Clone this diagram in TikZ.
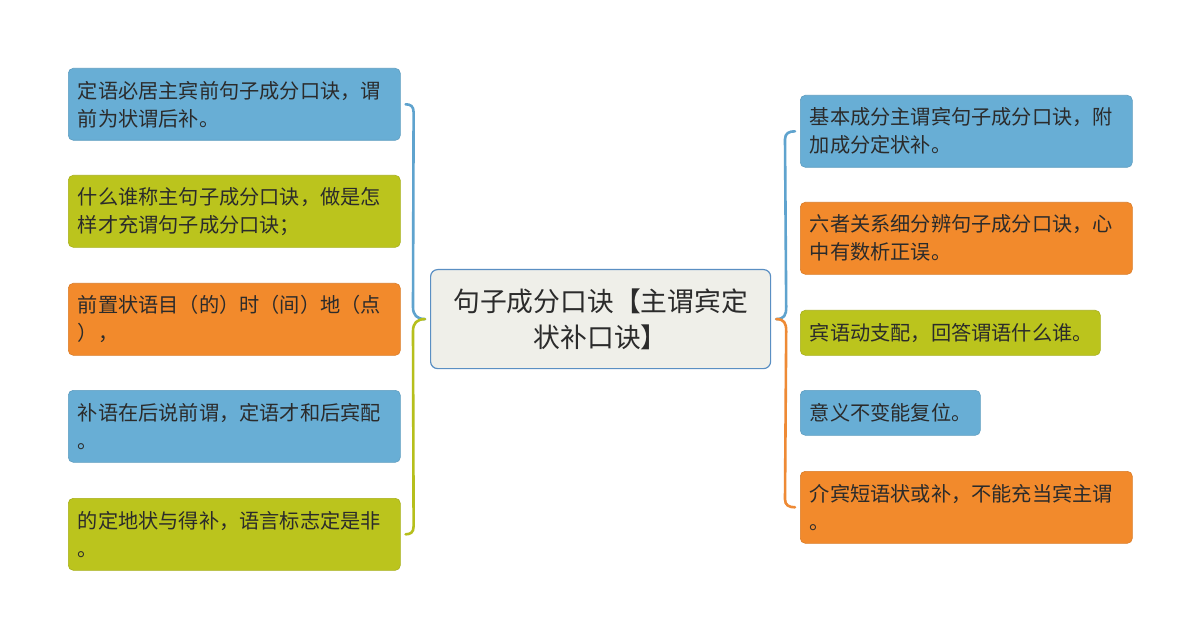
\documentclass[tikz,border=0pt]{standalone}
\usepackage{fontspec}
\newfontfamily\cjk{Noto Sans CJK SC}
\usetikzlibrary{calc}
\definecolor{cblue}{HTML}{68AED5}
\definecolor{colive}{HTML}{BBC41D}
\definecolor{corange}{HTML}{F28A2C}
\definecolor{lblue}{HTML}{5FA3CE}
\definecolor{lolive}{HTML}{B6BF1C}
\definecolor{lorange}{HTML}{EE8A35}
\definecolor{rootfill}{HTML}{EFEFE9}
\definecolor{rootdraw}{HTML}{5A8FC3}
\definecolor{textc}{HTML}{2B2B2B}
\newcommand\leaffont{\cjk\fontsize{20.2bp}{28bp}\selectfont}
\newcommand\rootfont{\cjk\fontsize{26.8bp}{36bp}\selectfont}
\tikzset{
  leaf/.style={rounded corners=5bp, anchor=north west, inner xsep=9.5bp, inner ysep=0bp,
    align=left, font=\leaffont, text=textc, line width=0.6bp},
  rootbox/.style={rounded corners=7bp, fill=rootfill, draw=rootdraw, line width=1.2bp,
    align=center, font=\rootfont, text=textc, inner sep=0bp,
    minimum width=340bp, minimum height=99bp, anchor=north west},
  conn/.style={line width=2.6bp, line cap=round}
}
\begin{document}
\begin{tikzpicture}[x=1bp,y=-1bp]
\fill[white] (0,0) rectangle (1200,638);
\useasboundingbox (0,0) rectangle (1200,638);

% root
\node[rootbox] (root) at (430,269) {句子成分口诀【主谓宾定\\状补口诀】};

% left leaves
\node[leaf, fill=cblue, draw=cblue!90!black, text width=313bp, minimum height=72bp] (L1) at (68,68) {定语必居主宾前句子成分口诀，谓\\前为状谓后补。};
\node[leaf, fill=colive, draw=colive!90!black, text width=313bp, minimum height=72bp] (L2) at (68,175) {什么谁称主句子成分口诀，做是怎\\样才充谓句子成分口诀；};
\node[leaf, fill=corange, draw=corange!90!black, text width=313bp, minimum height=72bp] (L3) at (68,283) {前置状语目（的）时（间）地（点\\），};
\node[leaf, fill=cblue, draw=cblue!90!black, text width=313bp, minimum height=72bp] (L4) at (68,390) {补语在后说前谓，定语才和后宾配\\。};
\node[leaf, fill=colive, draw=colive!90!black, text width=313bp, minimum height=72bp] (L5) at (68,498) {的定地状与得补，语言标志定是非\\。};

% right leaves
\node[leaf, fill=cblue, draw=cblue!90!black, text width=313bp, minimum height=72bp] (R1) at (800,95) {基本成分主谓宾句子成分口诀，附\\加成分定状补。};
\node[leaf, fill=corange, draw=corange!90!black, text width=313bp, minimum height=72bp] (R2) at (800,202) {六者关系细分辨句子成分口诀，心\\中有数析正误。};
\node[leaf, fill=colive, draw=colive!90!black, text width=281bp, minimum height=45bp] (R3) at (800,310) {宾语动支配，回答谓语什么谁。};
\node[leaf, fill=cblue, draw=cblue!90!black, text width=161bp, minimum height=45bp] (R4) at (800,390) {意义不变能复位。};
\node[leaf, fill=corange, draw=corange!90!black, text width=313bp, minimum height=72bp] (R5) at (800,471) {介宾短语状或补，不能充当宾主谓\\。};

% connector ends
\coordinate (Ltip) at ($(root.west)+(-5,0)$);
\coordinate (Rtip) at ($(root.east)+(5,0)$);
\coordinate (L1e) at ($(L1.east)+(5,0)$);
\coordinate (L5e) at ($(L5.east)+(5,0)$);
\coordinate (R1w) at ($(R1.west)+(-5,0)$);
\coordinate (R5w) at ($(R5.west)+(-5,0)$);

% left brace
\draw[conn, lblue] (Ltip) .. controls ($(Ltip)+(-8,0)$) and ($(Ltip)+(-12,-4)$) .. ($(Ltip)+(-12,-12)$)
  -- ($(L1e)+(8,8)$) .. controls ($(L1e)+(8,2)$) and ($(L1e)+(5,0)$) .. (L1e);
\draw[conn, lolive] (Ltip) .. controls ($(Ltip)+(-8,0)$) and ($(Ltip)+(-12,4)$) .. ($(Ltip)+(-12,12)$)
  -- ($(L5e)+(8,-8)$) .. controls ($(L5e)+(8,-2)$) and ($(L5e)+(5,0)$) .. (L5e);

% right brace
\draw[conn, lblue] (Rtip) .. controls ($(Rtip)+(8,0)$) and ($(Rtip)+(10,-4)$) .. ($(Rtip)+(10,-12)$)
  -- ($(R1w)+(-10,8)$) .. controls ($(R1w)+(-10,2)$) and ($(R1w)+(-6,0)$) .. (R1w);
\draw[conn, lorange] (Rtip) .. controls ($(Rtip)+(8,0)$) and ($(Rtip)+(10,4)$) .. ($(Rtip)+(10,12)$)
  -- ($(R5w)+(-10,-8)$) .. controls ($(R5w)+(-10,-2)$) and ($(R5w)+(-6,0)$) .. (R5w);
\end{tikzpicture}
\end{document}
